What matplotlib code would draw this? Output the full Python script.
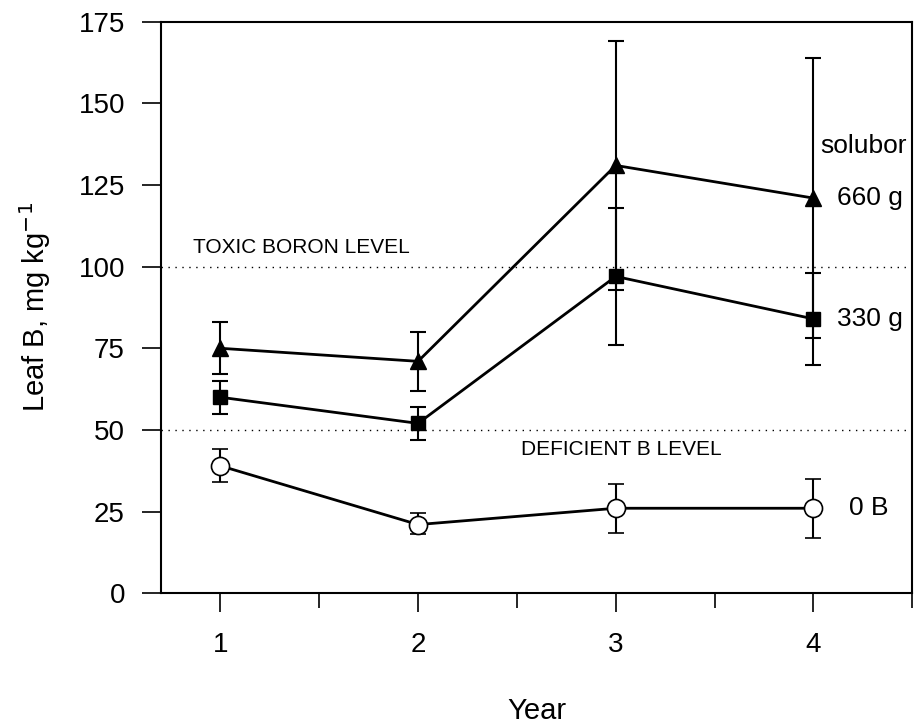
import matplotlib
matplotlib.use("Agg")
import matplotlib.pyplot as plt
from matplotlib.ticker import MultipleLocator

plt.rcParams["font.family"] = ["Liberation Sans", "DejaVu Sans"]

years = [1, 2, 3, 4]

b660 = [75, 71, 131, 121]
b660_lo = [67, 62, 93, 78]
b660_hi = [83, 80, 169, 164]

b330 = [60, 52, 97, 84]
b330_lo = [55, 47, 76, 70]
b330_hi = [65, 57, 118, 98]

b0 = [39, 21, 26, 26]
b0_lo = [34, 18, 18.5, 17]
b0_hi = [44, 24.5, 33.5, 35]

toxic_level = 100
deficient_level = 50


def err(vals, lo, hi):
    return [[v - l for v, l in zip(vals, lo)], [h - v for v, h in zip(vals, hi)]]


fig = plt.figure(figsize=(9.15, 7.26), dpi=100)
ax = fig.add_axes([0.176, 0.183, 0.821, 0.787])

kw = dict(color="black", lw=2, capsize=6, elinewidth=1.5, capthick=1.5)
ax.errorbar(years, b660, yerr=err(b660, b660_lo, b660_hi), marker="^", ms=12, **kw)
ax.errorbar(years, b330, yerr=err(b330, b330_lo, b330_hi), marker="s", ms=10, **kw)
ax.errorbar(years, b0, yerr=err(b0, b0_lo, b0_hi), marker="o", ms=13,
            mfc="white", mec="black", mew=1.2, **kw)

ax.axhline(toxic_level, color="black", ls=(0, (1, 4)), lw=1)
ax.axhline(deficient_level, color="black", ls=(0, (1, 4)), lw=1)

ax.text(0.86, toxic_level + 3, "TOXIC BORON LEVEL", fontsize=15, va="bottom")
ax.text(2.52, deficient_level - 3, "DEFICIENT B LEVEL", fontsize=15, va="top")
ax.text(4.47, 137, "solubor", fontsize=19, ha="right", va="center")
ax.text(4.12, 121, "660 g", fontsize=19, va="center")
ax.text(4.12, 84, "330 g", fontsize=19, va="center")
ax.text(4.18, 26, "0 B", fontsize=19, va="center")

ax.set_xlim(0.7, 4.5)
ax.set_ylim(0, 175)
ax.xaxis.set_major_locator(MultipleLocator(1))
ax.xaxis.set_minor_locator(MultipleLocator(0.5))
ax.yaxis.set_major_locator(MultipleLocator(25))
ax.tick_params(axis="both", which="major", labelsize=20, length=14, width=1.2, direction="out")
ax.tick_params(axis="x", which="minor", length=11, width=1.2, direction="out")
ax.tick_params(axis="x", pad=14)
ax.tick_params(axis="y", pad=12)
for s in ax.spines.values():
    s.set_linewidth(1.5)

ax.set_xlabel("Year", fontsize=21, labelpad=28)
ax.set_ylabel("Leaf B, mg kg$^{-1}$", fontsize=21, labelpad=18)

fig.savefig("out.png", dpi=100)
